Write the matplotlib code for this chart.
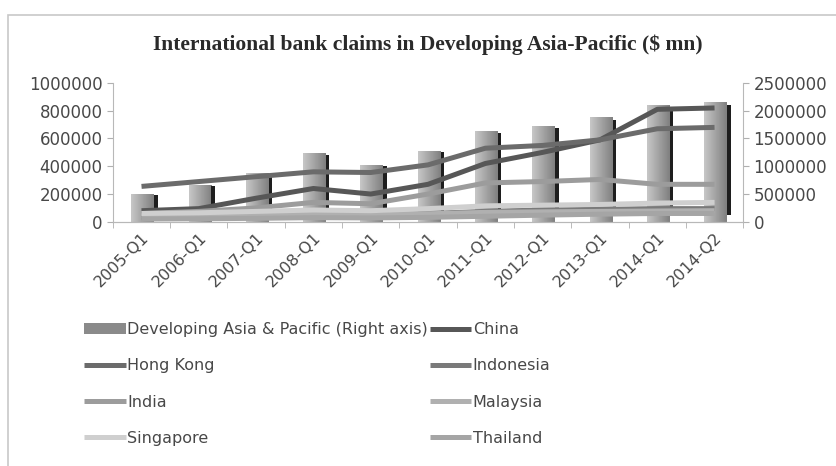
import numpy as np
import matplotlib
matplotlib.use("Agg")
import matplotlib.pyplot as plt
from matplotlib.patches import Rectangle

quarters = ["2005-Q1", "2006-Q1", "2007-Q1", "2008-Q1", "2009-Q1", "2010-Q1",
            "2011-Q1", "2012-Q1", "2013-Q1", "2014-Q1", "2014-Q2"]

# Developing Asia & Pacific total, plotted on the right axis
asia_pacific = [500000, 650000, 875000, 1225000, 1025000, 1275000,
                1625000, 1725000, 1875000, 2100000, 2150000]

china = [80000, 95000, 170000, 240000, 200000, 270000,
         420000, 500000, 590000, 810000, 820000]
hong_kong = [255000, 290000, 325000, 360000, 355000, 410000,
             530000, 550000, 590000, 670000, 680000]
indonesia = [35000, 38000, 45000, 55000, 50000, 60000,
             75000, 85000, 90000, 95000, 95000]
india = [60000, 75000, 100000, 140000, 130000, 200000,
         280000, 290000, 305000, 270000, 270000]
malaysia = [40000, 42000, 48000, 55000, 50000, 58000,
            68000, 72000, 75000, 78000, 80000]
singapore = [60000, 65000, 75000, 85000, 80000, 95000,
             115000, 120000, 125000, 135000, 140000]
thailand = [20000, 22000, 25000, 30000, 28000, 32000,
            40000, 48000, 55000, 60000, 60000]

fig = plt.figure(figsize=(8.36, 4.66), dpi=100)
fig.patches.append(Rectangle((8 / 836, -0.01), 1.0, 1 - 15 / 466 + 0.01,
                             transform=fig.transFigure, fill=False,
                             edgecolor="#c8c8c8", linewidth=1.2))

ax = fig.add_axes([0.135, 0.524, 0.754, 0.298])
ax2 = ax.twinx()
ax.set_zorder(ax2.get_zorder() + 1)
ax.patch.set_visible(False)

x = np.arange(len(quarters))

# shaded bars with a dark side edge
grad = np.linspace(0.78, 0.50, 64).reshape(1, -1)
bw = 0.40
for xi, v in zip(x, asia_pacific):
    x0 = xi - 0.18
    ax2.imshow(grad, extent=[x0, x0 + bw, 0, v], aspect="auto",
               cmap="gray", vmin=0, vmax=1, zorder=2, interpolation="bilinear")
    ax2.add_patch(Rectangle((x0 + bw, 0.06 * v), 0.06, 0.92 * v,
                            facecolor="#1e1e1e", edgecolor="none", zorder=3))
bar_handle = Rectangle((0, 0), 1, 1, facecolor="#8a8a8a", edgecolor="none")

series = [
    ("China", china, "#575757"),
    ("Hong Kong", hong_kong, "#6b6b6b"),
    ("Indonesia", indonesia, "#7a7a7a"),
    ("India", india, "#9c9c9c"),
    ("Malaysia", malaysia, "#b0b0b0"),
    ("Singapore", singapore, "#cfcfcf"),
    ("Thailand", thailand, "#a5a5a5"),
]
lines = {}
for name, vals, col in series:
    ln, = ax.plot(x, vals, color=col, linewidth=3.6, solid_capstyle="butt",
                  solid_joinstyle="round", zorder=4)
    lines[name] = ln

ax.set_xlim(-0.5, len(quarters) - 0.5)
ax2.set_xlim(-0.5, len(quarters) - 0.5)
ax.set_ylim(0, 1000000)
ax2.set_ylim(0, 2500000)
ax.set_yticks(np.arange(0, 1000001, 200000))
ax2.set_yticks(np.arange(0, 2500001, 500000))
ax.set_yticklabels([str(v) for v in range(0, 1000001, 200000)])
ax2.set_yticklabels([str(v) for v in range(0, 2500001, 500000)])

ax.set_xticks(x)
ax.set_xticklabels(quarters, rotation=45, ha="right", rotation_mode="anchor",
                   fontsize=11.5, color="#484848")
ax.set_xticks(np.arange(-0.5, len(quarters), 1), minor=True)
ax.tick_params(axis="x", which="major", length=0, pad=6)
ax.tick_params(axis="x", which="minor", length=4, color="#b0b0b0")
ax.tick_params(axis="y", length=4, color="#b0b0b0", labelsize=12,
               labelcolor="#484848")
ax2.tick_params(axis="y", length=4, color="#b0b0b0", labelsize=12,
                labelcolor="#484848")
ax2.tick_params(axis="x", length=0)

for a in (ax, ax2):
    a.spines["top"].set_visible(False)
    for s in ("left", "right", "bottom"):
        a.spines[s].set_color("#b8b8b8")
ax.spines["right"].set_visible(False)
ax2.spines["left"].set_visible(False)

fig.text(0.512, 0.903, "International bank claims in Developing Asia-Pacific ($ mn)",
         ha="center", va="center", fontsize=15.5, fontweight="bold",
         family="Liberation Serif", color="#2a2a2a")

handles = [bar_handle, lines["Hong Kong"], lines["India"], lines["Singapore"],
           lines["China"], lines["Indonesia"], lines["Malaysia"], lines["Thailand"]]
labels = ["Developing Asia & Pacific (Right axis)", "Hong Kong", "India", "Singapore",
          "China", "Indonesia", "Malaysia", "Thailand"]
fig.legend(handles, labels, ncol=2, loc="upper left",
           bbox_to_anchor=(0.093, 0.322), frameon=False, fontsize=11.5,
           labelcolor="#484848", handlelength=2.6, handletextpad=0.1,
           columnspacing=0.1, labelspacing=1.32, borderaxespad=0)

fig.savefig("out.png", dpi=100)
